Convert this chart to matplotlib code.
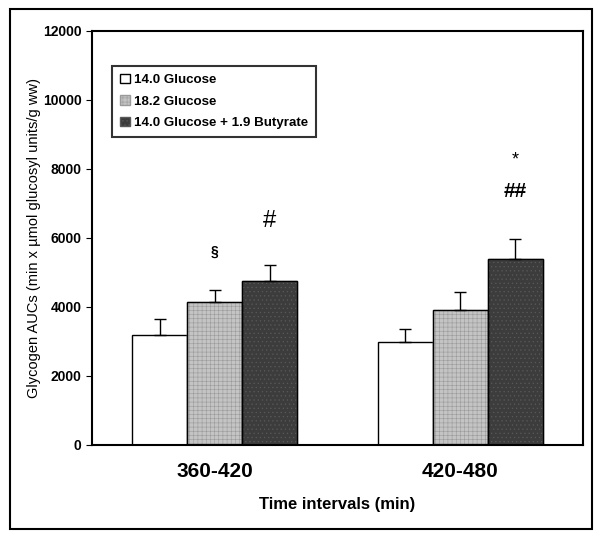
import matplotlib
matplotlib.use("Agg")
import matplotlib.pyplot as plt
import numpy as np
from matplotlib.patches import Rectangle

plt.rcParams["font.family"] = ["Liberation Sans", "DejaVu Sans"]
plt.rcParams["hatch.linewidth"] = 0.4

# data
intervals = ["360-420", "420-480"]
series = ["14.0 Glucose", "18.2 Glucose", "14.0 Glucose + 1.9 Butyrate"]
means = {
    "14.0 Glucose": [3180, 2980],
    "18.2 Glucose": [4130, 3900],
    "14.0 Glucose + 1.9 Butyrate": [4740, 5380],
}
errors = {
    "14.0 Glucose": [460, 370],
    "18.2 Glucose": [350, 520],
    "14.0 Glucose + 1.9 Butyrate": [460, 580],
}
# significance marks: (group, series, label, y)
marks = [
    (0, 1, "§", 5600),
    (0, 2, "#", 6500),
    (1, 2, "##", 7350),
    (1, 2, "*", 8250),
]

faces = ["white", "#c4c4c4", "#3c3c3c"]
hatches = [None, "++++", "...."]
hatch_cols = ["black", "#9a9a9a", "#5a5a5a"]

fig = plt.figure(figsize=(6.0, 5.38), dpi=100)
ax = fig.add_axes([0.153, 0.173, 0.819, 0.770])

x = np.arange(len(intervals))
w = 0.224
for i, s in enumerate(series):
    pos = x + (i - 1) * w
    bars = ax.bar(pos, means[s], w, color=faces[i], edgecolor="black",
                  linewidth=1.0, label=s, zorder=2)
    if hatches[i]:
        for b in bars:
            b.set_hatch(hatches[i])
            b.set_edgecolor(hatch_cols[i])
        ax.bar(pos, means[s], w, fill=False, edgecolor="black", linewidth=1.0, zorder=3)
    ax.errorbar(pos, means[s], yerr=[np.zeros(len(x)), errors[s]], fmt="none",
                ecolor="black", elinewidth=1.0, capsize=4, capthick=1.0, zorder=4)

for g, si, lab, yv in marks:
    fs = {"§": 10, "#": 17, "##": 15, "*": 13}[lab]
    ax.text(x[g] + (si - 1) * w, yv, lab, ha="center", va="center",
            fontsize=fs, fontweight="bold" if lab in ("§", "##") else "normal")

ax.set_xlim(-0.5, 1.5)
ax.set_ylim(0, 12000)
ax.set_yticks(np.arange(0, 12001, 2000))
ax.set_xticks(x)
ax.set_xticklabels(intervals, fontsize=15, fontweight="bold")
ax.tick_params(axis="x", length=0, pad=12)
ax.tick_params(axis="y", labelsize=10, length=4, direction="out")
for t in ax.get_yticklabels():
    t.set_fontweight("bold")
for sp in ax.spines.values():
    sp.set_linewidth(1.5)

ax.set_xlabel("Time intervals (min)", fontsize=12, fontweight="bold", labelpad=12)
ax.set_ylabel("Glycogen AUCs (min x µmol glucosyl units/g ww)", fontsize=10.5,
              labelpad=1)

leg = ax.legend(loc="upper left", bbox_to_anchor=(0.028, 0.932),
                prop={"weight": "bold", "size": 9.6}, frameon=True, fancybox=False,
                handlelength=0.7, handleheight=0.7, handletextpad=0.3,
                borderpad=0.6, labelspacing=0.7)
leg.get_frame().set_edgecolor("black")
leg.get_frame().set_linewidth(1.5)

# outer frame around the whole figure
fig.patches.append(Rectangle((10 / 600, 9 / 538), 582 / 600, 520 / 538,
                             transform=fig.transFigure, fill=False,
                             edgecolor="black", linewidth=1.5))

fig.savefig("out.png", dpi=100)
